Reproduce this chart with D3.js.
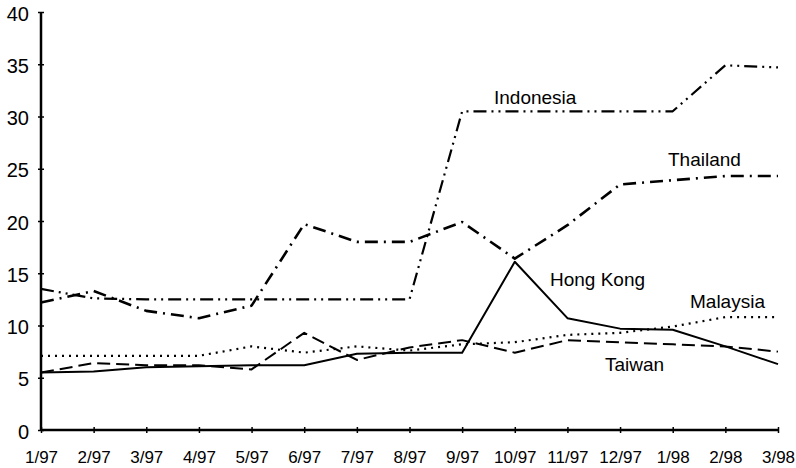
<!DOCTYPE html>
<html>
<head>
<meta charset="utf-8">
<script src="https://cdn.jsdelivr.net/npm/d3@7/dist/d3.min.js"></script>
<style>
  html, body { margin: 0; padding: 0; background: #fff; }
  svg { display: block; font-family: "Liberation Sans", Arial, Helvetica, sans-serif; }
</style>
</head>
<body>
<svg id="chart" width="796" height="468"></svg>
<script>
const months = ["1/97","2/97","3/97","4/97","5/97","6/97","7/97","8/97","9/97","10/97","11/97","12/97","1/98","2/98","3/98"];
const yTicks = [0, 5, 10, 15, 20, 25, 30, 35, 40];

const indonesia = [13.5, 12.6, 12.5, 12.5, 12.5, 12.5, 12.5, 12.5, 30.5, 30.5, 30.5, 30.5, 30.5, 34.9, 34.7];
const thailand  = [12.2, 13.3, 11.4, 10.7, 11.9, 19.7, 18.0, 18.0, 19.9, 16.4, 19.6, 23.5, 23.9, 24.3, 24.3];
const hongKong  = [5.5, 5.6, 6.0, 6.1, 6.2, 6.2, 7.3, 7.4, 7.4, 16.1, 10.7, 9.7, 9.6, 8.0, 6.3];
const malaysia  = [7.1, 7.1, 7.1, 7.1, 8.0, 7.4, 8.0, 7.6, 8.2, 8.4, 9.1, 9.3, 9.9, 10.8, 10.8];
const taiwan    = [5.5, 6.4, 6.2, 6.2, 5.8, 9.3, 6.7, 7.9, 8.6, 7.4, 8.6, 8.4, 8.2, 8.0, 7.5];

const seriesNames = ["Indonesia", "Thailand", "Hong Kong", "Malaysia", "Taiwan"];
const seriesValues = [indonesia, thailand, hongKong, malaysia, taiwan];

// styles
const styles = {
  "Indonesia": { dash: "13,5,2,5,2,5", width: 2.2 },
  "Thailand":  { dash: "13,6,2,6", width: 2.6 },
  "Hong Kong": { dash: null, width: 2 },
  "Malaysia":  { dash: "2,5", width: 2.2 },
  "Taiwan":    { dash: "13,6", width: 2 }
};
const labelPos = {
  "Indonesia": [494, 104],
  "Thailand":  [668, 166],
  "Hong Kong": [550, 286],
  "Malaysia":  [690, 308],
  "Taiwan":    [605, 371]
};

const svg = d3.select("#chart");
const x = d3.scalePoint().domain(months).range([41, 778]).padding(0);
const y = d3.scaleLinear().domain([0, 40]).range([430, 12]);

// Axes
const yAxis = svg.append("g").attr("transform", "translate(41,0)")
  .call(d3.axisLeft(y).tickValues(yTicks).tickSize(3).tickPadding(9).tickFormat(d3.format("d")));
yAxis.select(".domain").attr("stroke", "#000").attr("stroke-width", 2.5).attr("d", `M0,${y(40)}V${y(0)}`);
yAxis.selectAll(".tick line").attr("x1", -3).attr("x2", 3).attr("stroke", "#000").attr("stroke-width", 1.5);
yAxis.selectAll(".tick text").attr("font-size", 20).attr("fill", "#000").attr("font-family", "Liberation Sans, Arial, sans-serif").attr("dy", "0.4em");

const xAxis = svg.append("g").attr("transform", "translate(0,430)")
  .call(d3.axisBottom(x).tickSize(3).tickPadding(18));
xAxis.select(".domain").attr("stroke", "#000").attr("stroke-width", 2.5).attr("d", `M${x(months[0])},0H${x(months[months.length-1])}`);
xAxis.selectAll(".tick line").attr("y1", -3).attr("y2", 3).attr("stroke", "#000").attr("stroke-width", 1.5);
xAxis.selectAll(".tick text").attr("font-size", 17).attr("fill", "#000").attr("font-family", "Liberation Sans, Arial, sans-serif");

// Lines
const line = d3.line().x((d, i) => x(months[i])).y(d => y(d));
seriesNames.forEach((name, k) => {
  const st = styles[name];
  svg.append("path")
    .datum(seriesValues[k])
    .attr("fill", "none")
    .attr("stroke", "#000")
    .attr("stroke-width", st.width)
    .attr("stroke-dasharray", st.dash)
    .attr("stroke-linejoin", "round")
    .attr("d", line);
});

// Labels
seriesNames.forEach(name => {
  svg.append("text")
    .attr("x", labelPos[name][0])
    .attr("y", labelPos[name][1])
    .attr("font-size", 19)
    .attr("fill", "#000")
    .text(name);
});
</script>
</body>
</html>
